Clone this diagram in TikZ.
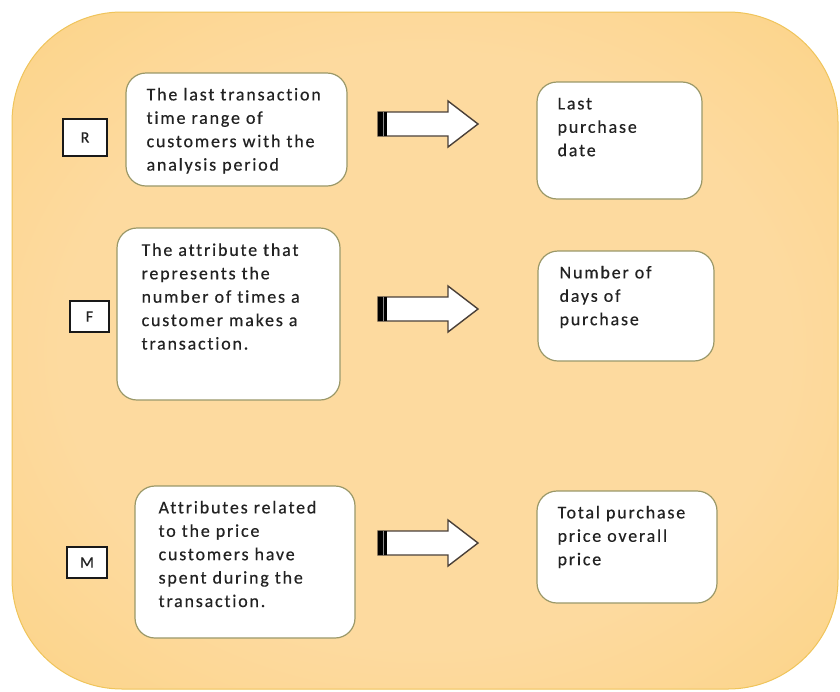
\documentclass[tikz,border=0pt]{standalone}
\usepackage{fontspec}
\setmainfont{Carlito}[LetterSpace=10, Ligatures=NoCommon, FakeBold=0.4]
\usetikzlibrary{positioning}

\definecolor{framein}{HTML}{FDDA9F}
\definecolor{frameout}{HTML}{FBCD70}
\definecolor{frameline}{HTML}{EFC45A}
\definecolor{boxline}{HTML}{9A9868}
\definecolor{inktext}{HTML}{222222}
\definecolor{arrowline}{HTML}{4A4038}

\pgfdeclareradialshading{frameglow}{\pgfpoint{0bp}{0bp}}{color(0bp)=(framein); color(22bp)=(framein); color(50bp)=(frameout)}

\tikzset{
	letterbox/.style={draw=black!90, line width=1.8pt, fill=white, inner sep=0pt, text=inktext, font=\fontsize{16}{18}\selectfont},
	roundbox/.style={draw=boxline, line width=1.2pt, fill=white, rounded corners=20pt, inner sep=0pt},
	boxtext/.style={anchor=base west, inner sep=0pt, align=left, text=inktext, font=\fontsize{18}{23.4}\selectfont}
}

\begin{document}
\begin{tikzpicture}[x=1pt, y=-1pt]
	\useasboundingbox (0,0) rectangle (840,691);

	%frame
	\shadedraw [shading=frameglow, draw=frameline, line width=1pt, rounded corners=110pt] (12,12) rectangle (838,689);

	%letters
	\node [letterbox, minimum width=44pt, minimum height=37pt] (r) at (85,137.5) {R};
	\node [letterbox, minimum width=39pt, minimum height=31pt] (f) at (89.5,316.5) {F};
	\node [letterbox, minimum width=40pt, minimum height=31pt] (m) at (87,562.5) {M};

	%boxes
	\node [roundbox, minimum width=221pt, minimum height=113pt] (rdef) at (236.5,129.5) {};
	\node [roundbox, minimum width=165pt, minimum height=117pt] (rval) at (619.5,140.5) {};
	\node [roundbox, minimum width=223pt, minimum height=172pt] (fdef) at (228.5,314) {};
	\node [roundbox, minimum width=176pt, minimum height=110pt] (fval) at (626,306) {};
	\node [roundbox, minimum width=220pt, minimum height=152pt] (mdef) at (245,562) {};
	\node [roundbox, minimum width=180pt, minimum height=112pt] (mval) at (627,547) {};

	%texts
	\node [boxtext, text width=210pt] (rdeftext) at ([shift={(21,28)}]rdef.north west) {The last transaction\\time range of\\customers with the\\analysis period};
	\node [boxtext, text width=150pt] (rvaltext) at ([shift={(21,28)}]rval.north west) {Last\\purchase\\date};
	\node [boxtext, text width=210pt] (fdeftext) at ([shift={(25,28.5)}]fdef.north west) {The attribute that\\represents the\\number of times a\\customer makes a\\transaction.};
	\node [boxtext, text width=160pt] (fvaltext) at ([shift={(22,28)}]fval.north west) {Number of\\days of\\purchase};
	\node [boxtext, text width=200pt] (mdeftext) at ([shift={(24,28)}]mdef.north west) {Attributes related\\to the price\\customers have\\spent during the\\transaction.};
	\node [boxtext, text width=165pt] (mvaltext) at ([shift={(21,28)}]mval.north west) {Total purchase\\price overall\\price};

	%arrows
	\foreach \y [count=\i] in {124, 309, 543}{
		\coordinate (tail\i) at (378,\y);
		\draw [draw=arrowline, line width=1.4pt, fill=white, line join=miter]
			(tail\i) ++(0,-12) -- ++(70,0) -- ++(0,-11) -- ++(30,23) -- ++(-30,23) -- ++(0,-11) -- ++(-70,0) -- cycle;
		\fill [black] (tail\i) ++(0,-12) rectangle ++(9,24);
		\draw [black!45, line width=1pt] (tail\i) ++(5,-12) -- ++(0,24);
	}

\end{tikzpicture}
\end{document}
